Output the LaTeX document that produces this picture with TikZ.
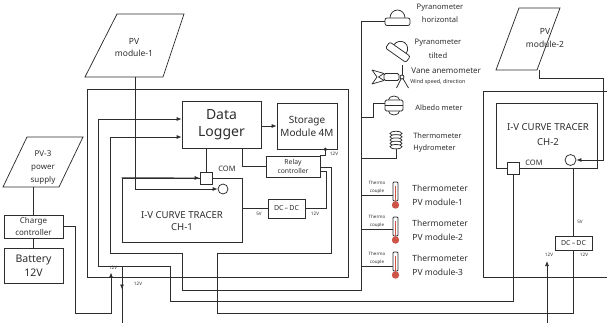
\documentclass[tikz,border=0pt]{standalone}
\usepackage{fontspec}
\setmainfont{Noto Sans}
\usetikzlibrary{arrows.meta,calc}
\definecolor{ink}{RGB}{45,45,45}
\definecolor{bulbred}{RGB}{206,84,72}
\newcommand{\fz}[2]{\fontsize{#1}{#2}\selectfont}
\begin{document}
\begin{tikzpicture}[x=1pt,y=-1pt,line width=0.75pt,color=ink,
  box/.style={draw=ink,rectangle,inner sep=0pt,align=center},
  lbl/.style={inner sep=0pt,align=center},
  tip/.style={-{Latex[length=5pt,width=4pt]}},
  tiny/.style={lbl,font=\fz{4.6}{5}},
  sensor/.style={inner sep=0pt,anchor=west,align=left}]
\useasboundingbox (0,0) rectangle (607,323);
\clip (0,0) rectangle (607,323);

% ---------- main data acquisition enclosure ----------
\node[box,minimum width=261pt,minimum height=188pt] (mainbox) at (217.5,183) {};
\node[box,minimum width=79pt,minimum height=47pt,font=\fz{14}{17}] (logger) at (221.5,124.5) {Data\\Logger};
\node[box,minimum width=60pt,minimum height=46pt,font=\fz{10}{13}] (storage) at (307,126) {Storage\\Module 4M};
\node[box,minimum width=54pt,minimum height=21pt,font=\fz{6.8}{9.5}] (relay) at (293,166.5) {Relay\\controller};
\node[box,minimum width=37pt,minimum height=19pt,font=\fz{7}{8}] (dcdc1) at (286.5,208.5) {DC\,--\,DC};
\node[box,minimum width=120pt,minimum height=64pt] (ch1) at (182,210) {};
\node[lbl,font=\fz{9.6}{12.5}] (ch1txt) at (182,221) {I-V CURVE TRACER\\CH-1};
\node[box,minimum size=12pt,fill=white] (com1) at (206,178) {};
\node[lbl,font=\fz{7.5}{8}] (com1txt) at (227,169) {COM};
\node[draw=ink,circle,minimum size=10pt,inner sep=0pt,fill=white] (c1) at (223,189) {};
\coordinate (sdot) at ($(storage.south east)+(-12,0)$);
\fill (sdot) circle (1.8);
\node[tiny] (v12s) at (334,154) {12V};
\node[tiny] (v5a) at (259,214) {5V};
\node[tiny] (v12d) at (315,214) {12V};

% ---------- PV module-1 ----------
\draw (117,14) -- (184,14) -- (163,77) -- (85,77) -- cycle;
\node[lbl,font=\fz{8.5}{12}] (pv1txt) at (134,48) {PV\\module-1};
\coordinate (pv1b) at (135,77);

% ---------- PV-3 supply, charge controller, battery ----------
\draw (27,137) -- (83,137) -- (59,187) -- (3,187) -- cycle;
\node[lbl,font=\fz{8}{13}] (pv3txt) at (43,168) {PV-3\\power\\supply};
\coordinate (pv3b) at (33.5,187);
\node[box,minimum width=59pt,minimum height=23pt,font=\fz{8}{11.5}] (cc) at (33.5,226.5) {Charge\\controller};
\node[box,minimum width=59pt,minimum height=35pt,font=\fz{10.5}{14}] (bat) at (33.5,265.5) {Battery\\12V};

% ---------- right enclosure with tracer CH-2 ----------
\coordinate (e2a) at (612,91);
\coordinate (e2b) at (483,91);
\coordinate (e2c) at (483,277);
\coordinate (e2d) at (612,277);
\draw (e2a) -- (e2b) -- (e2c) -- (e2d);
\node[box,minimum width=101pt,minimum height=65pt] (ch2) at (546.5,135.5) {};
\node[lbl,font=\fz{9.6}{15}] (ch2txt) at (548,134.5) {I-V CURVE TRACER\\CH-2};
\node[box,minimum size=12pt,fill=white] (com2) at (513.5,168) {};
\node[lbl,font=\fz{7.5}{8}] (com2txt) at (534,163) {COM};
\node[draw=ink,circle,minimum size=11pt,inner sep=0pt,fill=white] (c2) at (570.5,160) {};
\node[box,minimum width=37pt,minimum height=14pt,font=\fz{7}{8}] (dcdc2) at (573.5,243) {DC\,--\,DC};
\node[tiny] (v5b) at (580,222) {5V};
\node[tiny] (v12e) at (584,255) {12V};
\node[tiny] (v12f) at (549,255) {12V};

% ---------- PV module-2 ----------
\draw (519,8) -- (560,8) -- (537,70) -- (496,70) -- cycle;
\node[lbl,font=\fz{8.5}{13}] (pv2txt) at (545,38.5) {PV\\module-2};
\coordinate (pv2b) at (539,70);

% ---------- wiring inside the main enclosure ----------
\draw[tip] (logger.east |- storage.west) -- (storage.west);
\draw (com1.north) -- (com1.north |- logger.south);
\draw ($(logger.south east)+(-19,0)$) |- (relay.west);
\draw (sdot) |- (relay.north east);
\draw ($(relay.east)+(0,0.5)$) -- (331,167) -- (331,253) -- (217,253) -- (217,313) -- (573.5,313) -- (dcdc2.south);
\draw ($(relay.east)+(0,4.5)$) -- (326,171) -- (326,208.5) -- (dcdc1.east);
\draw (dcdc1.west) -- (ch1.east |- dcdc1.west);
\draw[tip] (ch1.north west) -- (com1.west);
\draw[tip] (pv1b) -- (pv1b |- c1) -- (c1.west);

% logger inputs
\draw[tip] (com2.south) -- (513.5,301) -- (170,301) -- (170,266) -- (98,266) -- (98,119) -- ($(logger.west)+(0,-5.5)$);

% ---------- CH-2 wiring ----------
\draw (dcdc2.north |- ch2.south) -- (dcdc2.north);
\draw[tip] (pv2b) -- (539,78) -- (603,78) -- (603,160) -- (c2.east);
\coordinate (ext2) at (547,330);
\draw[tip] (ext2) -- (547,261);

% ---------- 12V supply lines ----------
\draw (pv3b) -- (cc.north);
\draw (cc.south) -- (bat.north);
\draw[tip] (cc.east) -- (75,226.5) -- (75,313) -- (111,313) -- (111,272.5);
\node[tiny] (v12g) at (113,267.5) {12V};
\coordinate (v12top) at (122,266);
\coordinate (v12bot) at (122,330);
\draw[tip] (v12top) -- (122,289.5);
\draw (122,287) -- (v12bot);
\node[tiny] (v12h) at (138,284) {12V};

% ---------- sensor bus ----------
\coordinate (pyrh) at (385,21.5);
\draw[tip] (pyrh) -- (361,21.5) -- (361,290) -- (182,290) -- (182,253) -- (110,253) -- (110,137) -- ($(logger.west)+(0,12.5)$);

% pyranometer, horizontal
\draw[rounded corners=2pt] (385,18) rectangle (410,25.5);
\draw (390,18) arc[start angle=180,end angle=360,x radius=7.5,y radius=8];
\node[lbl,font=\fz{7.6}{13}] (pyrhtxt) at (440,13.5) {Pyranometer\\horizontal};

% pyranometer, tilted
\begin{scope}[shift={(398,52)},rotate=-35]
  \draw[rounded corners=2pt] (-12.5,-3.5) rectangle (12.5,4);
  \draw (-7.5,-3.5) arc[start angle=180,end angle=360,x radius=7.5,y radius=8];
\end{scope}
\node[lbl,font=\fz{7.6}{14}] (pyrttxt) at (438,49) {Pyranometer\\tilted};

% vane anemometer
\draw[line join=round] (372,70) -- (384,73.5) -- (378.5,77) -- (384,80.5) -- (372,84) -- (377,77) -- cycle;
\draw[rounded corners=1.5pt] (384,73.5) rectangle (399,80.5);
\draw (402,77) -- (402,65);
\draw (402,77) -- (396.5,88);
\draw (402,77) -- (408.5,88);
\fill[white] (402,77) circle (2);
\draw (402,77) circle (2);
\node[sensor,font=\fz{8}{9}] (vanetxt) at (411,71) {Vane anemometer};
\node[sensor,font=\fz{5.4}{6}] (windtxt) at (410,82) {Wind speed, direction};

% albedo meter
\draw (388.5,100) arc[start angle=180,end angle=360,x radius=5.5,y radius=4];
\draw (388.5,111) arc[start angle=180,end angle=0,x radius=5.5,y radius=4];
\draw[rounded corners=1.5pt] (385,100) rectangle (403,111);
\draw (385,105.5) -- (403,105.5);
\coordinate (alb) at (385,103);
\draw (alb) -- (373,103) -- (373,117) -- (361,117);
\node[sensor,font=\fz{7.4}{8}] (albtxt) at (415,108) {Albedo meter};

% thermometer / hydrometer
\foreach \k in {0,...,4}
  \draw[fill=white] (396,133.5+3.3*\k) ellipse [x radius=6,y radius=2.2];
\coordinate (hyd) at (396,149);
\draw (hyd) -- (396,158) -- (361,158);
\node[sensor,font=\fz{7.4}{12}] (hydtxt) at (413,143) {Thermometer\\Hydrometer};

% PV module thermometers with thermocouples
\foreach \n/\yb/\yt in {1/195/188, 2/229/223, 3/266/258}{
  \draw[fill=white,rounded corners=1pt] (393,\yt-6) rectangle (398,\yt+13);
  \draw[bulbred,line width=1pt] (395.5,\yt-2) -- (395.5,\yt+14);
  \fill[bulbred] (395.5,\yt+17) circle (3.7);
  \draw (361,\yb) -- (393,\yb);
  \node[lbl,font=\fz{4.5}{7.5}] at (377,\yb-7.5) {Thermo\\couple};
  \node[sensor,font=\fz{8.5}{14}] at (412,\yt+7) {Thermometer\\PV module-\n};
}
\end{tikzpicture}
\end{document}
